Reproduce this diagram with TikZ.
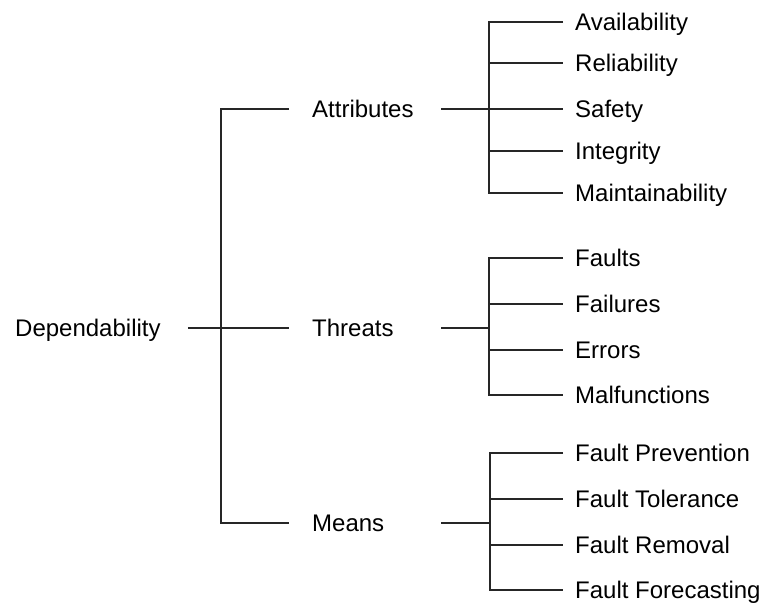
\documentclass[tikz,border=0pt]{standalone}
\usepackage{fontspec}
\setmainfont{Liberation Sans}
\tikzset{lbl/.style={anchor=west,inner sep=0pt,text height=17.2pt,text depth=0pt,
  font=\fontsize{24pt}{28pt}\selectfont},
 root/.style={lbl,inner xsep=27pt},
 mid/.style={lbl,text width=106pt,align=left,inner xsep=23pt},
 leaf/.style={lbl,inner xsep=12pt},
 conn/.style={draw=black!85,line width=1.1pt},
 }

\begin{document}
\begin{tikzpicture}[x=1pt,y=-1pt]
        \useasboundingbox (0,0) rectangle (762,604);
        \node[root] (dep) at (-12,328) {Dependability};
        \node[mid] (attr) at (289,109) {Attributes};
        \node[mid] (threat) at (289,328) {Threats};
        \node[mid] (means) at (289,523) {Means};
        \node[leaf] (avail) at (563,22) {Availability};
        \node[leaf] (rel) at (563,63) {Reliability};
        \node[leaf] (safe) at (563,109) {Safety};
        \node[leaf] (integ) at (563,151) {Integrity};
        \node[leaf] (maint) at (563,193) {Maintainability};
        \node[leaf] (fault) at (563,258) {Faults};
        \node[leaf] (fail) at (563,304) {Failures};
        \node[leaf] (err) at (563,350) {Errors};
        \node[leaf] (malf) at (563,395) {Malfunctions};
        \node[leaf] (prev) at (563,453) {Fault Prevention};
        \node[leaf] (tol) at (563,499) {Fault Tolerance};
        \node[leaf] (rem) at (563,545) {Fault Removal};
        \node[leaf] (fore) at (563,590) {Fault Forecasting};
        \coordinate (j0) at (221,328);
        \coordinate (ja) at (489,109);
        \coordinate (jt) at (489,328);
        \coordinate (jm) at (490,523);
        \draw[conn] (dep.east) -- (threat.west);
        \draw[conn] (attr.west) -| (j0) |- (means.west);
        \draw[conn] (attr.east) -- (safe.west);
        \draw[conn] (avail.west) -| (ja) |- (maint.west);
        \draw[conn] (ja |- rel.west) -- (rel.west);
        \draw[conn] (ja |- integ.west) -- (integ.west);
        \draw[conn] (threat.east) -- (jt);
        \draw[conn] (fault.west) -| (jt) |- (malf.west);
        \draw[conn] (jt |- fail.west) -- (fail.west);
        \draw[conn] (jt |- err.west) -- (err.west);
        \draw[conn] (means.east) -- (jm);
        \draw[conn] (prev.west) -| (jm) |- (fore.west);
        \draw[conn] (jm |- tol.west) -- (tol.west);
        \draw[conn] (jm |- rem.west) -- (rem.west);
    \end{tikzpicture}
\end{document}
